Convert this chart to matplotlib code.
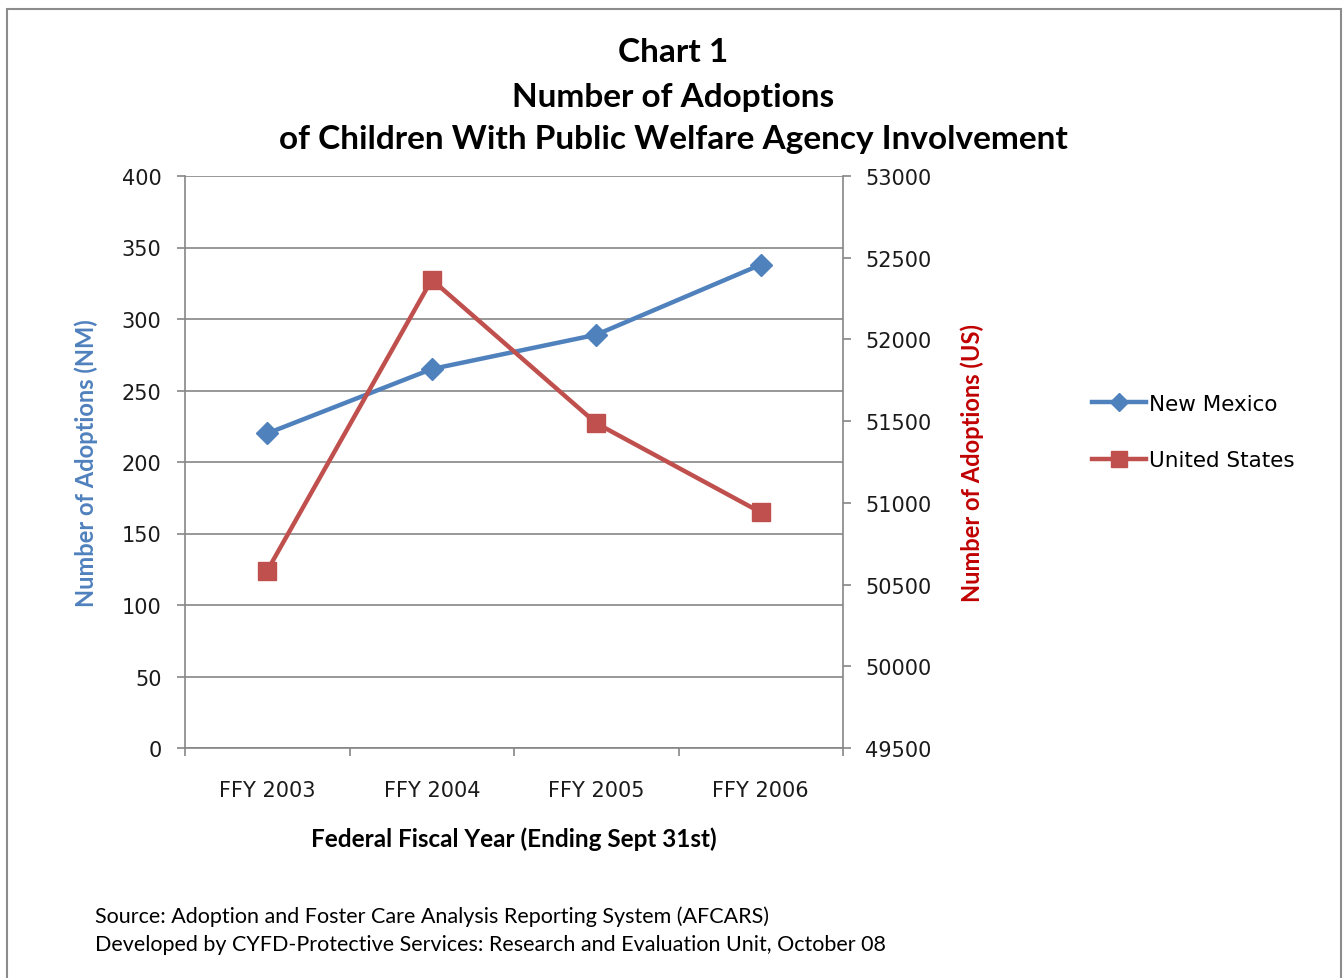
import matplotlib
matplotlib.use("Agg")
import matplotlib.pyplot as plt
from matplotlib.patches import Rectangle
from matplotlib.lines import Line2D

# data
years = ["FFY 2003", "FFY 2004", "FFY 2005", "FFY 2006"]
new_mexico = [220, 265, 289, 338]
united_states = [50585, 52366, 51487, 50942]

nm_ticks = [0, 50, 100, 150, 200, 250, 300, 350, 400]
us_ticks = [49500, 50000, 50500, 51000, 51500, 52000, 52500, 53000]

blue = "#4F81BD"
red = "#C0504D"
grey = "#868686"
title_font = "Lato"
tick_font = "DejaVu Sans"

fig = plt.figure(figsize=(13.44, 9.79), dpi=100)
fig.patch.set_facecolor("white")

# outer chart frame
fig.patches.append(Rectangle((7 / 1344, -0.05), 1334 / 1344, 1.05 - 10 / 979,
                             transform=fig.transFigure, fill=False,
                             edgecolor="#8c8c8c", linewidth=1.5))

ax = fig.add_axes([185 / 1344, 1 - 749 / 979, 658 / 1344, 572 / 979])
ax2 = ax.twinx()

x = list(range(len(years)))
ax.plot(x, new_mexico, color=blue, lw=3.2, marker="D", ms=11, zorder=4)
ax2.plot(x, united_states, color=red, lw=3.2, marker="s", ms=12.5, zorder=4)

ax.set_xlim(-0.5, len(years) - 0.5)
ax.set_ylim(0, 400)
ax2.set_ylim(49500, 53000)
ax.set_yticks(nm_ticks)
ax2.set_yticks(us_ticks)
ax.set_yticklabels([str(v) for v in nm_ticks], fontsize=15, family=tick_font, color="#1a1a1a")
ax2.set_yticklabels([str(v) for v in us_ticks], fontsize=15, family=tick_font, color="#1a1a1a")

ax.set_xticks(x)
ax.set_xticklabels(years, fontsize=15, family=tick_font, color="#1a1a1a")
ax.set_xticks([i - 0.5 for i in range(len(years) + 1)], minor=True)
ax.tick_params(axis="x", which="major", length=0, pad=23)
ax.tick_params(axis="x", which="minor", length=6, color=grey, width=1.2, direction="out")
ax.tick_params(axis="y", length=6, color=grey, width=1.2, pad=11)
ax2.tick_params(axis="y", length=6, color=grey, width=1.2, pad=10)

ax.grid(axis="y", color=grey, lw=1.2)
ax.set_axisbelow(True)
for a in (ax, ax2):
    a.spines["top"].set_visible(False)
    for s in ("left", "right", "bottom"):
        a.spines[s].set_color(grey)
        a.spines[s].set_linewidth(1.2)
ax.spines["right"].set_visible(False)
ax2.spines["left"].set_visible(False)
ax2.spines["bottom"].set_visible(False)

# titles
fig.text(673 / 1344, 1 - 53 / 979, "Chart 1", ha="center", va="center",
         fontsize=24, fontweight="bold", family=title_font)
fig.text(673 / 1344, 1 - 97 / 979, "Number of Adoptions", ha="center", va="center",
         fontsize=24, fontweight="bold", family=title_font)
fig.text(673 / 1344, 1 - 140 / 979, "of Children With Public Welfare Agency Involvement",
         ha="center", va="center", fontsize=24, fontweight="bold", family=title_font)

fig.text(86 / 1344, 1 - 463 / 979, "Number of Adoptions (NM)", rotation=90,
         ha="center", va="center", fontsize=17, fontweight="bold", color=blue, family=title_font)
fig.text(972 / 1344, 1 - 463 / 979, "Number of Adoptions (US)", rotation=90,
         ha="center", va="center", fontsize=17, fontweight="bold", color="#C00000", family=title_font)
fig.text(514 / 1344, 1 - 839 / 979, "Federal Fiscal Year (Ending Sept 31st)",
         ha="center", va="center", fontsize=17.5, fontweight="bold", family=title_font)

fig.text(95 / 1344, 1 - 917 / 979,
         "Source: Adoption and Foster Care Analysis Reporting System (AFCARS)",
         ha="left", va="center", fontsize=15.5, family=title_font)
fig.text(95 / 1344, 1 - 945 / 979,
         "Developed by CYFD-Protective Services: Research and Evaluation Unit, October 08",
         ha="left", va="center", fontsize=15.5, family=title_font)

handles = [Line2D([], [], color=blue, lw=3.2, marker="D", ms=9),
           Line2D([], [], color=red, lw=3.2, marker="s", ms=11)]
fig.legend(handles, ["New Mexico", "United States"], loc="center left",
           bbox_to_anchor=(1081 / 1344, 1 - 433 / 979), frameon=False,
           prop={"family": tick_font, "size": 15.5}, handlelength=2.5,
           handletextpad=0.15, labelspacing=1.7, borderpad=0)

fig.savefig("out.png", dpi=100)
